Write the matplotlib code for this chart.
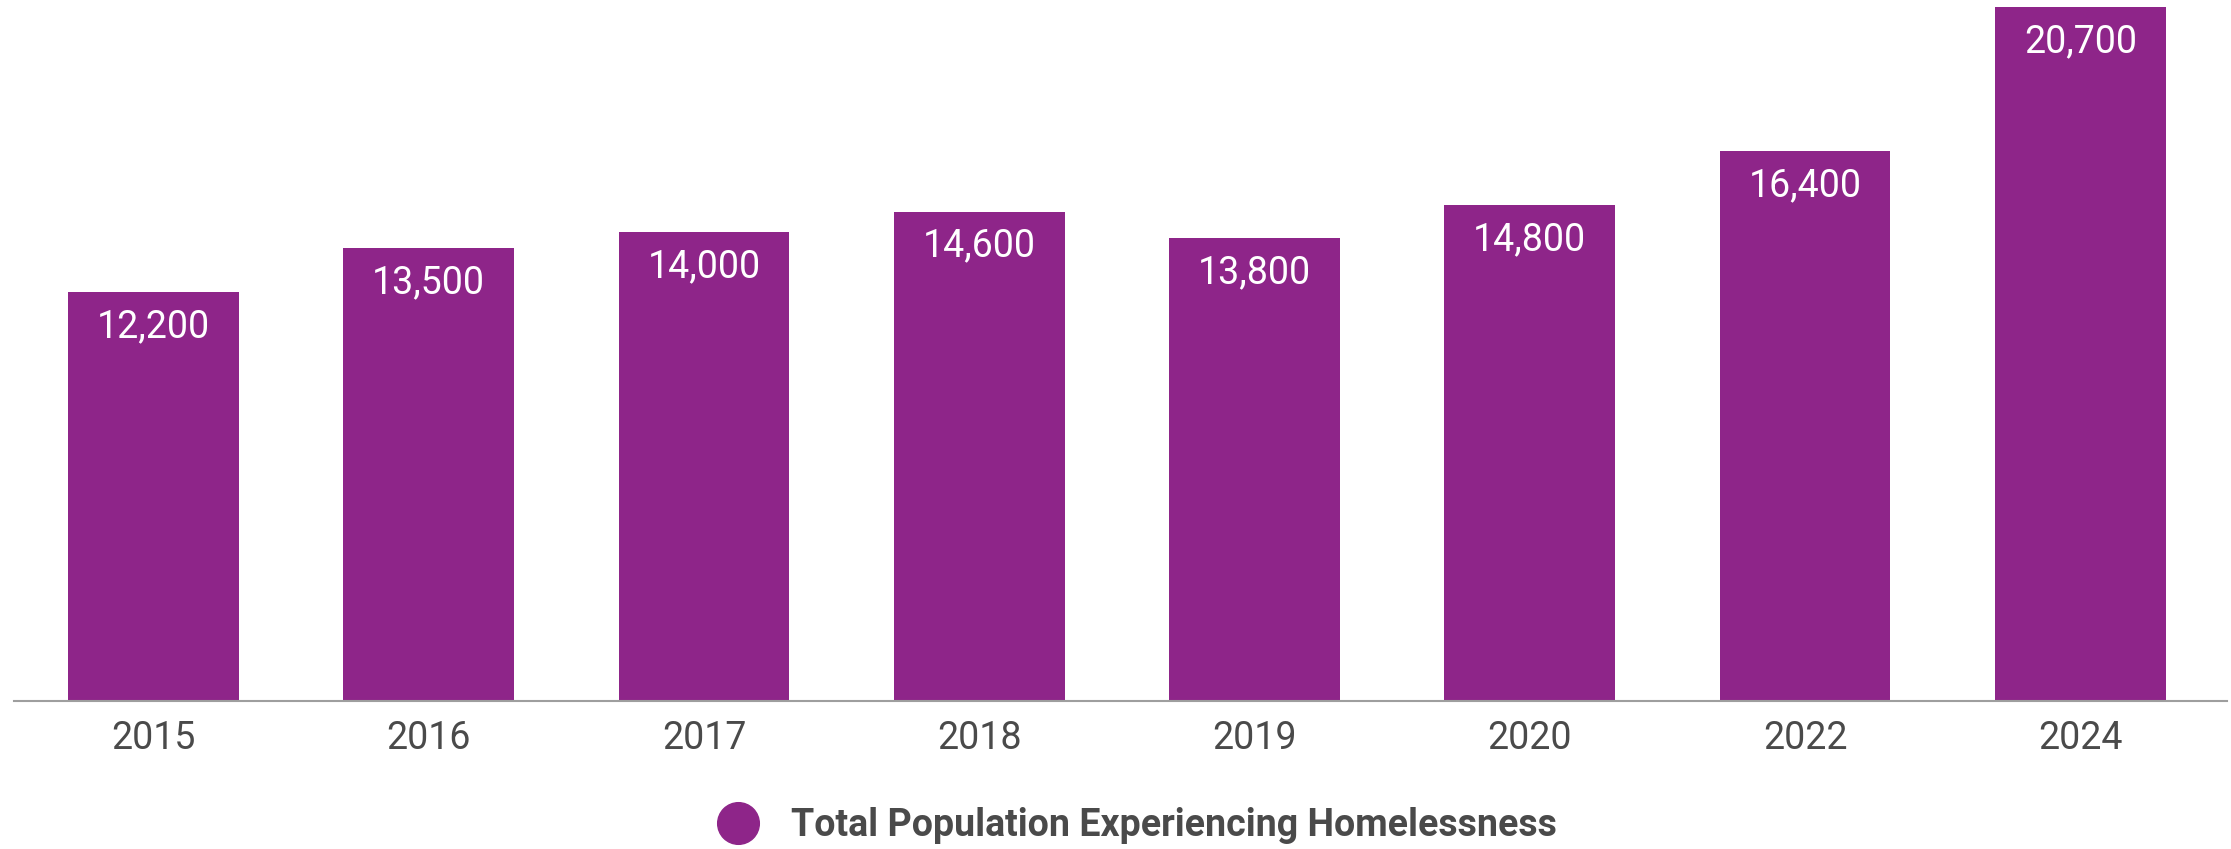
import matplotlib.pyplot as plt
from matplotlib.lines import Line2D

years = ["2015", "2016", "2017", "2018", "2019", "2020", "2022", "2024"]
population = [12200, 13500, 14000, 14600, 13800, 14800, 16400, 20700]
series_name = "Total Population Experiencing Homelessness"

bar_color = "#8e2589"
text_gray = "#4a4a4a"

plt.rcParams['font.family'] = ['Roboto', 'DejaVu Sans']

fig = plt.figure(figsize=(22.31, 8.49), dpi=100)
ax = fig.add_axes([14 / 2231, 148 / 849, 2213 / 2231, 694 / 849])

x = list(range(len(years)))
bars = ax.bar(x, population, width=0.62, color=bar_color, zorder=2)

# value labels inside the top of each bar
for xi, val in zip(x, population):
    ax.annotate(f"{val:,}", (xi, val), xytext=(0, -25), textcoords="offset points",
                ha="center", va="center", color="white", fontsize=27)

ax.set_xlim(-0.507, len(years) - 0.467)
ax.set_ylim(0, max(population))
ax.set_xticks(x)
ax.set_xticklabels(years, fontsize=27, color=text_gray)
ax.tick_params(axis="x", length=0, pad=14)
ax.set_yticks([])

for side in ["top", "right", "left"]:
    ax.spines[side].set_visible(False)
ax.spines["bottom"].set_color("#9e9e9e")
ax.spines["bottom"].set_linewidth(1.5)
ax.spines["bottom"].set_zorder(3)

handle = Line2D([], [], marker="o", linestyle="none", markersize=30,
                markerfacecolor=bar_color, markeredgecolor=bar_color)
leg = fig.legend([handle], [series_name], loc="center", bbox_to_anchor=(0.506, 0.028),
                 frameon=False, handletextpad=0.4, prop={"size": 27, "weight": "bold"})
for t in leg.get_texts():
    t.set_color(text_gray)

fig.savefig("out.png", dpi=100)
